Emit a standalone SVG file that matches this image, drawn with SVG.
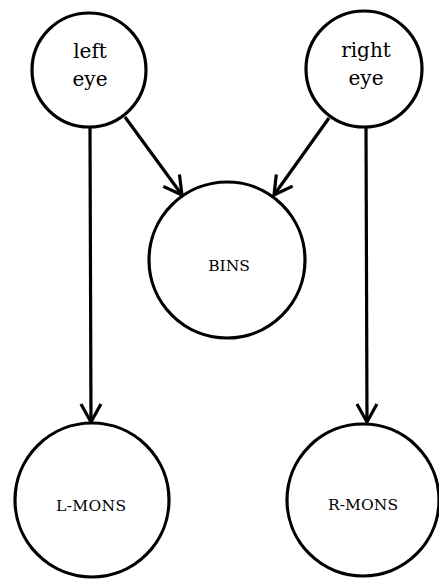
<svg xmlns="http://www.w3.org/2000/svg" width="439" height="579" viewBox="0 0 439 579">
<style>
.n{fill:#fff;stroke:#000;stroke-width:3.2}
.e{fill:none;stroke:#000;stroke-width:3.2}
.t{font-family:"DejaVu Serif","Liberation Serif",serif;fill:#000;text-anchor:middle}
.big{font-size:20px}
.sm{font-size:15.5px}
</style>
<defs>
<marker id="a" markerWidth="24" markerHeight="24" refX="20" refY="12" orient="auto" markerUnits="userSpaceOnUse">
<path d="M2,2 L20,12 L2,22" fill="none" stroke="#000" stroke-width="3.2"/>
</marker>
</defs>
<g id="connectors">
<line class="e" x1="90" y1="128" x2="91" y2="422" marker-end="url(#a)"/>
<line class="e" x1="366" y1="127" x2="367" y2="422" marker-end="url(#a)"/>
<line class="e" x1="125" y1="117" x2="182" y2="195" marker-end="url(#a)"/>
<line class="e" x1="329" y1="118" x2="274" y2="195" marker-end="url(#a)"/>
</g>
<g id="left-eye">
<circle class="n" cx="89" cy="70" r="57"/>
<text class="t big" x="90" y="58">left</text>
<text class="t big" x="90" y="86">eye</text>
</g>
<g id="right-eye">
<circle class="n" cx="364" cy="69" r="58"/>
<text class="t big" x="366" y="57">right</text>
<text class="t big" x="366" y="85">eye</text>
</g>
<g id="bins">
<circle class="n" cx="227" cy="260" r="78"/>
<text class="t sm" x="229" y="271">BINS</text>
</g>
<g id="l-mons">
<circle class="n" cx="92" cy="500" r="77"/>
<text class="t sm" x="91" y="511" textLength="70" lengthAdjust="spacing">L-MONS</text>
</g>
<g id="r-mons">
<circle class="n" cx="363" cy="500" r="76"/>
<text class="t sm" x="363" y="510" textLength="70" lengthAdjust="spacing">R-MONS</text>
</g>
</svg>
